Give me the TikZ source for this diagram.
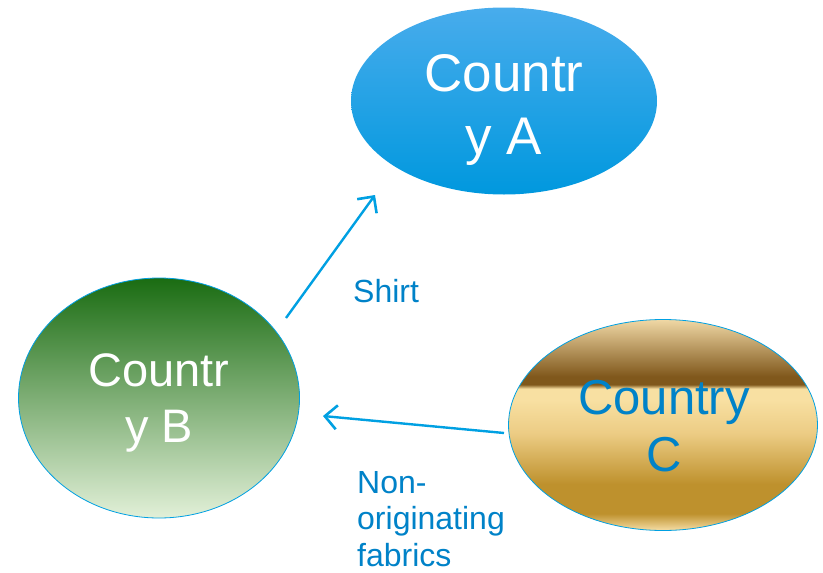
\documentclass[tikz,border=0pt]{standalone}
\usepackage{fontspec}
\setmainfont{Liberation Sans}
\usetikzlibrary{shapes.geometric,arrows.meta}
\definecolor{arrowblue}{RGB}{0,160,226}
\definecolor{textblue}{RGB}{0,130,200}
\definecolor{aTop}{RGB}{72,172,236}
\definecolor{aBot}{RGB}{0,152,222}
\definecolor{bTop}{RGB}{26,108,18}
\definecolor{bMid}{RGB}{148,184,110}
\definecolor{bBot}{RGB}{226,240,216}
\definecolor{g1}{RGB}{240,216,165}
\definecolor{g2}{RGB}{128,88,28}
\definecolor{g3}{RGB}{248,224,162}
\definecolor{g4}{RGB}{236,204,132}
\definecolor{g5}{RGB}{190,145,45}
\definecolor{g6}{RGB}{246,222,166}
\pgfdeclareverticalshading{goldband}{100bp}{%
  color(0bp)=(g6); color(25bp)=(g6); color(29bp)=(g5); color(36bp)=(g5);
  color(48bp)=(g4); color(56bp)=(g3); color(58.6bp)=(g3); color(59.6bp)=(g2);
  color(61.5bp)=(g2); color(75bp)=(g1); color(100bp)=(g1)}
\tikzset{
  blob/.style={ellipse, inner sep=0pt, draw=arrowblue, line width=0.8pt},
  bigtext/.style={align=center, inner sep=0pt},
  conn/.style={draw=arrowblue, line width=2.4pt, -{Straight Barb[length=12pt,width=24pt,line width=2.6pt]}},
  lbl/.style={text=textblue, inner sep=0pt, align=left, font=\fontsize{32}{36.5}\selectfont}
}
\begin{document}
\begin{tikzpicture}[x=1pt,y=-1pt]
\useasboundingbox (0,0) rectangle (823,573);
% ellipses
\node[blob, draw=none, top color=aTop, bottom color=aBot, minimum width=306pt, minimum height=187pt] (A) at (504,101) {};
\node[blob, top color=bTop, middle color=bMid, bottom color=bBot, minimum width=281pt, minimum height=240pt] (B) at (159,398) {};
\node[blob, shading=goldband, minimum width=309pt, minimum height=211pt] (C) at (663,425) {};
% texts
\node[bigtext, text=white, font=\fontsize{53}{63}\selectfont] (At) at (504,110) {Countr\\y A};
\node[bigtext, text=white, font=\fontsize{47}{56}\selectfont] (Bt) at (159,403) {Countr\\y B};
\node[bigtext, text=textblue, font=\fontsize{49}{57}\selectfont] (Ct) at (664,426) {Country\\C};
% connectors
\coordinate (s1) at (286,318);
\coordinate (e1) at (375,195);
\coordinate (s2) at (504,433);
\coordinate (e2) at (323,416);
\draw[conn] (s1) -- (e1);
\draw[conn] (s2) -- (e2);
% labels
\node[lbl, anchor=base west] (shirt) at (353,302) {Shirt};
\node[lbl, anchor=north west] (fab) at (357,471) {Non-\\originating\\fabrics};
\end{tikzpicture}
\end{document}
